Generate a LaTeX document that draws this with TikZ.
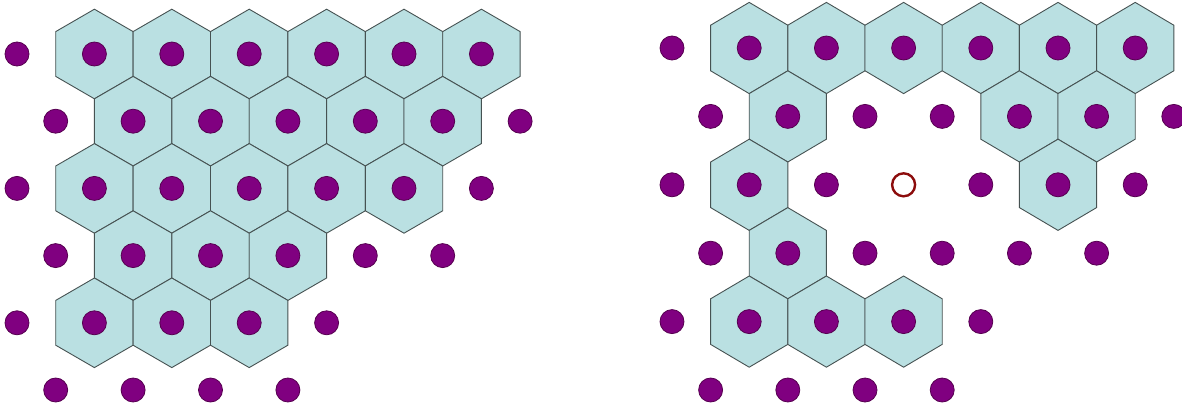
\documentclass[tikz,border=0pt]{standalone}
\usepackage{xcolor}
\usepackage{tikz}

\definecolor{cellfill}{RGB}{186,224,226}
\definecolor{celledge}{RGB}{70,82,82}
\definecolor{atomfill}{RGB}{128,0,128}
\definecolor{atomedge}{RGB}{86,0,80}
\definecolor{vacancy}{RGB}{140,12,12}

\begin{document}
\begin{tikzpicture}[x=1pt, y=-1pt]
  \tikzstyle{cell}=[draw=celledge, fill=cellfill, line width=0.9pt]
  \tikzstyle{atom}=[circle, draw=atomedge, fill=atomfill, line width=0.8pt, minimum size=24pt, inner sep=0pt]
  \tikzstyle{hole}=[circle, draw=vacancy, line width=2.4pt, minimum size=23pt, inner sep=0pt]
  \useasboundingbox (0,0) rectangle (1182,412);
  % left lattice: filled area
  \begin{scope}[shift={(17,54)}, x=77.4pt, y=-67.2pt]
    \foreach \r/\ks in {0/{1,...,6}, 1/{1,...,5}, 2/{1,...,5}, 3/{1,2,3}, 4/{1,2,3}} {
      \foreach \k in \ks {
        \pgfmathsetmacro\xx{\k+0.5*mod(\r,2)}
        \draw[cell] (\xx,\r) +(0,-0.6667) -- +(0.5,-0.3333) -- +(0.5,0.3333) -- +(0,0.6667)
          -- +(-0.5,0.3333) -- +(-0.5,-0.3333) -- cycle;
      }
    }
    \foreach \r/\ks in {0/{0,...,6}, 1/{0,...,6}, 2/{0,...,6}, 3/{0,...,5}, 4/{0,...,4}, 5/{0,...,3}} {
      \foreach \k in \ks {
        \pgfmathsetmacro\xx{\k+0.5*mod(\r,2)}
        \node[atom] (L-\r-\k) at (\xx,\r) {};
      }
    }
  \end{scope}
  % right lattice: ring round the vacancy
  \begin{scope}[shift={(672,48)}, x=77.2pt, y=-68.4pt]
    \foreach \r/\ks in {0/{1,...,6}, 1/{1,4,5}, 2/{1,5}, 3/{1}, 4/{1,2,3}} {
      \foreach \k in \ks {
        \pgfmathsetmacro\xx{\k+0.5*mod(\r,2)}
        \draw[cell] (\xx,\r) +(0,-0.6667) -- +(0.5,-0.3333) -- +(0.5,0.3333) -- +(0,0.6667)
          -- +(-0.5,0.3333) -- +(-0.5,-0.3333) -- cycle;
      }
    }
    \foreach \r/\ks in {0/{0,...,6}, 1/{0,...,6}, 2/{0,1,2,4,5,6}, 3/{0,...,5}, 4/{0,...,4}, 5/{0,...,3}} {
      \foreach \k in \ks {
        \pgfmathsetmacro\xx{\k+0.5*mod(\r,2)}
        \node[atom] (R-\r-\k) at (\xx,\r) {};
      }
    }
    \node[hole] (R-2-3) at (3,2) {};
  \end{scope}
\end{tikzpicture}
\end{document}
